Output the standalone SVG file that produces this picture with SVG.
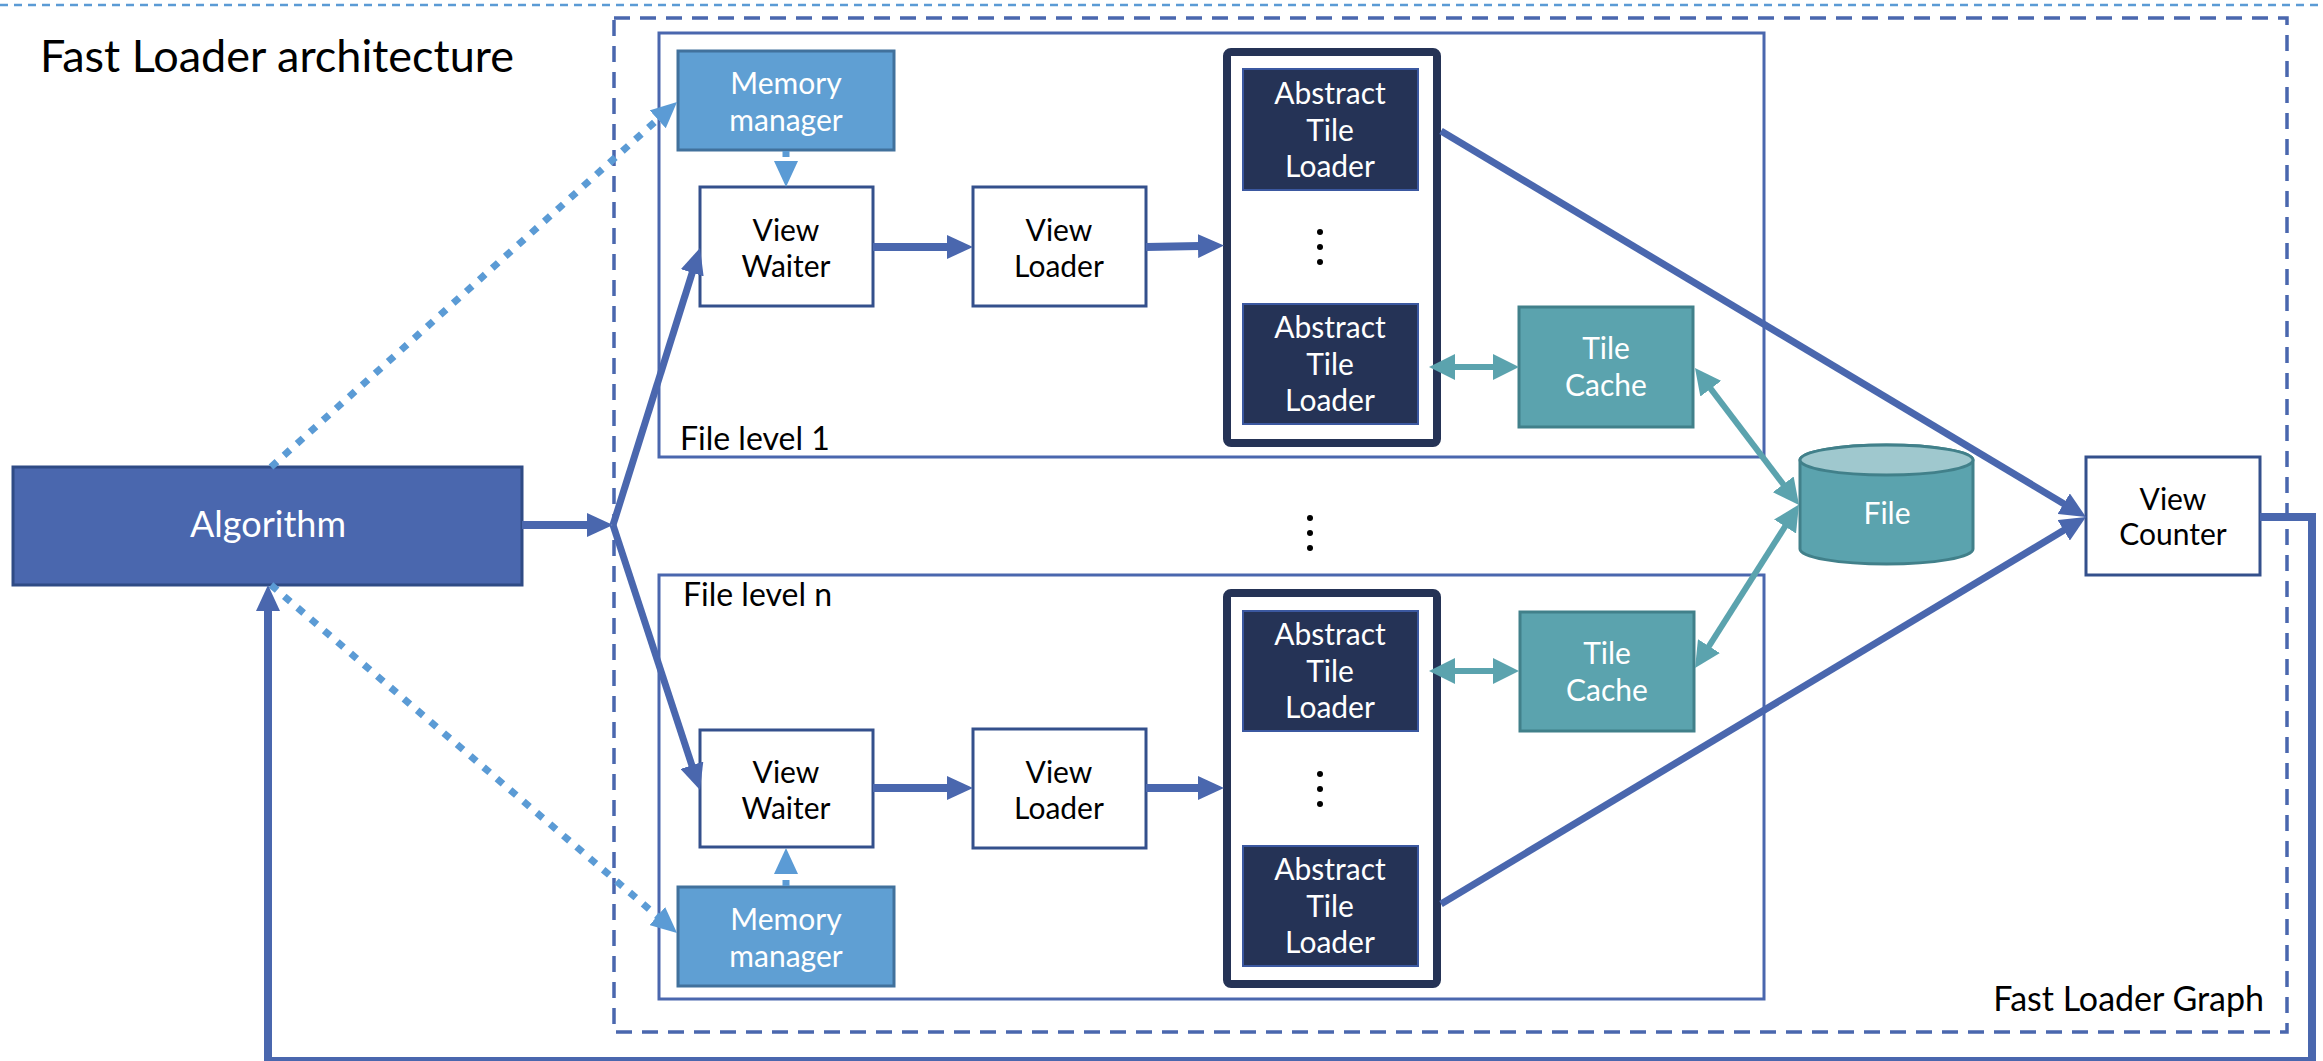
<svg xmlns="http://www.w3.org/2000/svg" width="2323" height="1061" viewBox="0 0 2323 1061">
<style>
text{font-family:Lato,"Liberation Sans",sans-serif}
.lbl{font-size:30px;text-anchor:middle}
.w{fill:#fff}
.k{fill:#000}
.plain{fill:#fff;stroke:#34508c;stroke-width:3}
.mem{fill:#5f9fd3;stroke:#41719c;stroke-width:3}
.atl{fill:#253356;stroke:#3b58a0;stroke-width:2}
.col{fill:#fff;stroke:#253356;stroke-width:8}
.cache{fill:#5ba3ae;stroke:#41808a;stroke-width:3}
.level{fill:none;stroke:#4a67ae;stroke-width:3}
.flow{fill:none;stroke:#4a67ae;marker-end:url(#ab)}
.dot{fill:none;stroke:#5b9bd5;stroke-width:7;marker-end:url(#al)}
.teal{fill:none;stroke:#5ba3ae;stroke-width:6;marker-start:url(#at);marker-end:url(#at)}
</style>
<defs>
<marker id="ab" viewBox="0 0 26 24" refX="2" refY="12" markerWidth="26" markerHeight="24" markerUnits="userSpaceOnUse" orient="auto"><path d="M0,0 L26,12 L0,24 Z" fill="#4a67ae"/></marker>
<marker id="al" viewBox="0 0 26 24" refX="2" refY="12" markerWidth="26" markerHeight="24" markerUnits="userSpaceOnUse" orient="auto"><path d="M0,0 L26,12 L0,24 Z" fill="#5b9bd5"/></marker>
<marker id="at" viewBox="0 0 26 26" refX="2" refY="13" markerWidth="26" markerHeight="26" markerUnits="userSpaceOnUse" orient="auto-start-reverse"><path d="M0,0 L26,13 L0,26 Z" fill="#5ba3ae"/></marker>
</defs>

<!-- page frame and captions -->
<line x1="0" y1="5" x2="2323" y2="5" stroke="#5b9bd5" stroke-width="2.5" stroke-dasharray="8 6"/>
<text x="40" y="72" font-size="45" fill="#000">Fast Loader architecture</text>

<g id="fast-loader-graph">
<rect x="614" y="18" width="1673" height="1014" fill="none" stroke="#4a67ae" stroke-width="3.5" stroke-dasharray="16 10"/>
<text x="2264" y="1011" font-size="34" text-anchor="end" fill="#000">Fast Loader Graph</text>
</g>

<g id="file-level-1">
<rect class="level" x="659" y="33" width="1105" height="424"/>
<text x="680" y="450" font-size="32" fill="#000">File level 1</text>
</g>
<g id="file-level-n">
<rect class="level" x="659" y="575" width="1105" height="424"/>
<text x="683" y="606" font-size="32" fill="#000">File level n</text>
</g>

<g id="level-dots" fill="#000">
<circle cx="1310" cy="518" r="3"/><circle cx="1310" cy="533" r="3"/><circle cx="1310" cy="548" r="3"/>
</g>

<g id="algorithm">
<rect x="13" y="467" width="509" height="118" fill="#4a67ae" stroke="#2f4b85" stroke-width="3"/>
<text x="268" y="537" font-size="36" text-anchor="middle" class="w">Algorithm</text>
</g>

<!-- level 1 -->
<g id="memory-manager-1">
<rect class="mem" x="678" y="51" width="216" height="99"/>
<text class="lbl w" x="786" y="94">Memory</text><text class="lbl w" x="786" y="131">manager</text>
</g>
<g id="view-waiter-1">
<rect class="plain" x="700" y="187" width="173" height="119"/>
<text class="lbl k" x="786" y="241">View</text><text class="lbl k" x="786" y="277">Waiter</text>
</g>
<g id="view-loader-1">
<rect class="plain" x="973" y="187" width="173" height="119"/>
<text class="lbl k" x="1059" y="241">View</text><text class="lbl k" x="1059" y="277">Loader</text>
</g>
<g id="tile-loaders-1">
<rect class="col" x="1227" y="52" width="210" height="391" rx="4"/>
<circle cx="1320" cy="232" r="3"/><circle cx="1320" cy="247" r="3"/><circle cx="1320" cy="262" r="3"/>
</g>
<g id="abstract-tile-loader-1a">
<rect class="atl" x="1243" y="69" width="175" height="121"/>
<text class="lbl w" x="1330" y="104">Abstract</text><text class="lbl w" x="1330" y="141">Tile</text><text class="lbl w" x="1330" y="177">Loader</text>
</g>
<g id="abstract-tile-loader-1b">
<rect class="atl" x="1243" y="304" width="175" height="120"/>
<text class="lbl w" x="1330" y="338">Abstract</text><text class="lbl w" x="1330" y="375">Tile</text><text class="lbl w" x="1330" y="411">Loader</text>
</g>
<g id="tile-cache-1">
<rect class="cache" x="1519" y="307" width="174" height="120"/>
<text class="lbl w" x="1606" y="359">Tile</text><text class="lbl w" x="1606" y="396">Cache</text>
</g>

<!-- level n -->
<g id="memory-manager-n">
<rect class="mem" x="678" y="887" width="216" height="99"/>
<text class="lbl w" x="786" y="930">Memory</text><text class="lbl w" x="786" y="967">manager</text>
</g>
<g id="view-waiter-n">
<rect class="plain" x="700" y="730" width="173" height="117"/>
<text class="lbl k" x="786" y="783">View</text><text class="lbl k" x="786" y="819">Waiter</text>
</g>
<g id="view-loader-n">
<rect class="plain" x="973" y="729" width="173" height="119"/>
<text class="lbl k" x="1059" y="783">View</text><text class="lbl k" x="1059" y="819">Loader</text>
</g>
<g id="tile-loaders-n">
<rect class="col" x="1227" y="593" width="210" height="391" rx="4"/>
<circle cx="1320" cy="774" r="3"/><circle cx="1320" cy="789" r="3"/><circle cx="1320" cy="804" r="3"/>
</g>
<g id="abstract-tile-loader-na">
<rect class="atl" x="1243" y="611" width="175" height="120"/>
<text class="lbl w" x="1330" y="645">Abstract</text><text class="lbl w" x="1330" y="682">Tile</text><text class="lbl w" x="1330" y="718">Loader</text>
</g>
<g id="abstract-tile-loader-nb">
<rect class="atl" x="1243" y="846" width="175" height="120"/>
<text class="lbl w" x="1330" y="880">Abstract</text><text class="lbl w" x="1330" y="917">Tile</text><text class="lbl w" x="1330" y="953">Loader</text>
</g>
<g id="tile-cache-n">
<rect class="cache" x="1520" y="612" width="174" height="119"/>
<text class="lbl w" x="1607" y="664">Tile</text><text class="lbl w" x="1607" y="701">Cache</text>
</g>

<g id="file">
<path d="M1800,460 A86.5,15 0 0 1 1973,460 V549 A86.5,15 0 0 1 1800,549 Z" fill="#5ba3ae" stroke="#41808a" stroke-width="3"/>
<ellipse cx="1886.5" cy="460" rx="86.5" ry="15" fill="#9fc8ce" stroke="#41808a" stroke-width="3"/>
<text class="lbl w" x="1887" y="524">File</text>
</g>

<g id="view-counter">
<rect class="plain" x="2086" y="457" width="174" height="118"/>
<text class="lbl k" x="2173" y="510">View</text><text class="lbl k" x="2173" y="545">Counter</text>
</g>

<g id="connectors">
<!-- algorithm fan-out to the view waiters -->
<path class="flow" stroke-width="8" d="M522,525 H589"/>
<path class="flow" stroke-width="7" d="M613,525 L692.8,270.9"/>
<path class="flow" stroke-width="7" d="M613,525 L692.5,767.2"/>
<!-- memory managers -->
<path class="dot" stroke-dasharray="8 9.5" d="M271,467 L659.2,118"/>
<path class="dot" stroke-dasharray="8 9.5" d="M271,585 L658.8,917.4"/>
<path class="dot" stroke-width="6" stroke-dasharray="6 7" d="M786,151 V163"/>
<path class="dot" stroke-width="6" stroke-dasharray="6 7" d="M786,886 V872"/>
<!-- view pipeline -->
<path class="flow" stroke-width="8" d="M873,247 H949"/>
<path class="flow" stroke-width="8" d="M1146,247 L1200,246"/>
<path class="flow" stroke-width="8" d="M873,788 H949"/>
<path class="flow" stroke-width="8" d="M1146,788 H1200"/>
<!-- tile cache traffic -->
<path class="teal" d="M1453,367 H1495"/>
<path class="teal" d="M1453,671 H1495"/>
<path class="teal" d="M1709.5,387.1 L1784.5,485.9"/>
<path class="teal" d="M1707.9,647.8 L1786.1,524.8"/>
<!-- tile loaders to the view counter -->
<path class="flow" stroke-width="7" d="M1441,131 L2065.4,504.7"/>
<path class="flow" stroke-width="7" d="M1441,904 L2065.4,529.3"/>
<!-- views returned to the algorithm -->
<path class="flow" stroke-width="8" d="M2260,517 H2312 V1061 H268 V609"/>
</g>
</svg>
